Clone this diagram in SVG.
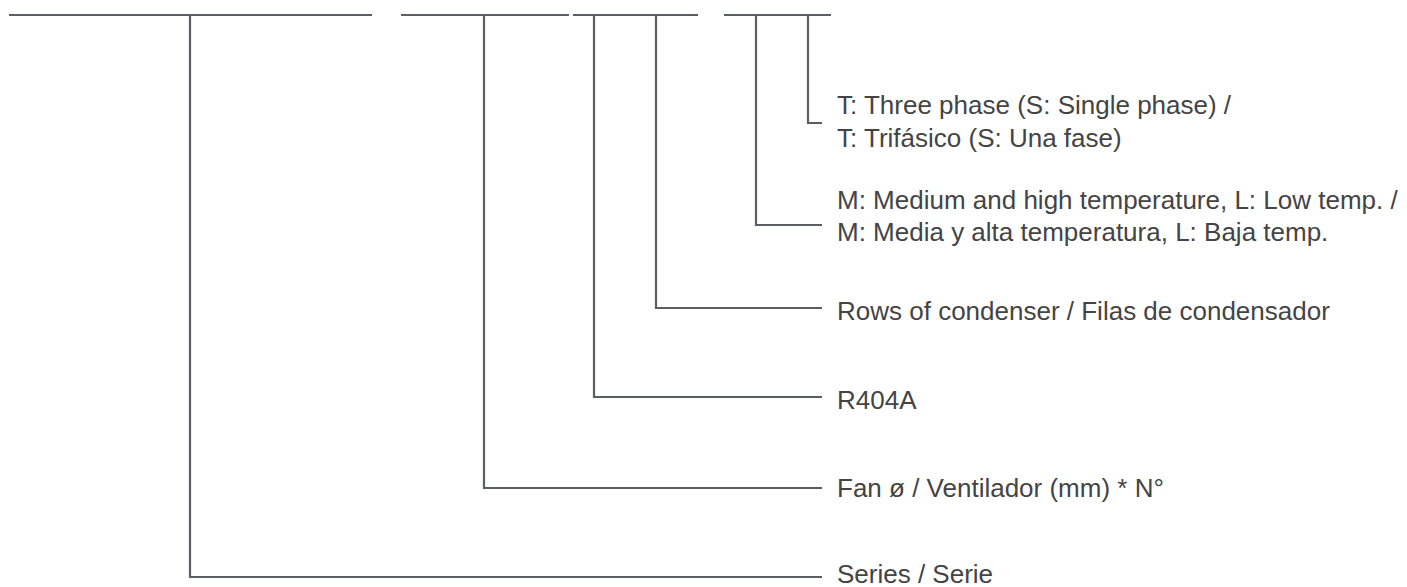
<svg xmlns="http://www.w3.org/2000/svg" width="1407" height="587" viewBox="0 0 1407 587">
<style>
.ln{fill:none;stroke:#5b5e63;stroke-width:2.2;stroke-linecap:butt;stroke-linejoin:miter}
.t{font-family:"Liberation Sans",Arial,sans-serif;font-size:26px;fill:#444444}
</style>
<rect width="1407" height="587" fill="#ffffff"/>
<g id="code-bars">
<path class="ln" d="M9,15H372M401,15H569M573,15H698M724,15H831"/>
</g>
<g id="connectors">
<path class="ln" d="M808,15V123H822"/>
<path class="ln" d="M756,15V225H822"/>
<path class="ln" d="M656,15V308H822"/>
<path class="ln" d="M594,15V397H822"/>
<path class="ln" d="M484,15V488H822"/>
<path class="ln" d="M190,15V577H822"/>
</g>
<g id="phase"><text class="t" x="837" y="114">T: Three phase (S: Single phase) /</text><text class="t" x="837" y="147">T: Trifásico (S: Una fase)</text></g>
<g id="temp"><text class="t" x="837" y="209">M: Medium and high temperature, L: Low temp. /</text><text class="t" x="837" y="241">M: Media y alta temperatura, L: Baja temp.</text></g>
<g id="rows"><text class="t" x="837" y="320">Rows of condenser / Filas de condensador</text></g>
<g id="refrigerant"><text class="t" x="837" y="409">R404A</text></g>
<g id="fan"><text class="t" x="837" y="497">Fan ø / Ventilador (mm) * N°</text></g>
<g id="series"><text class="t" x="837" y="583">Series / Serie</text></g>
</svg>
